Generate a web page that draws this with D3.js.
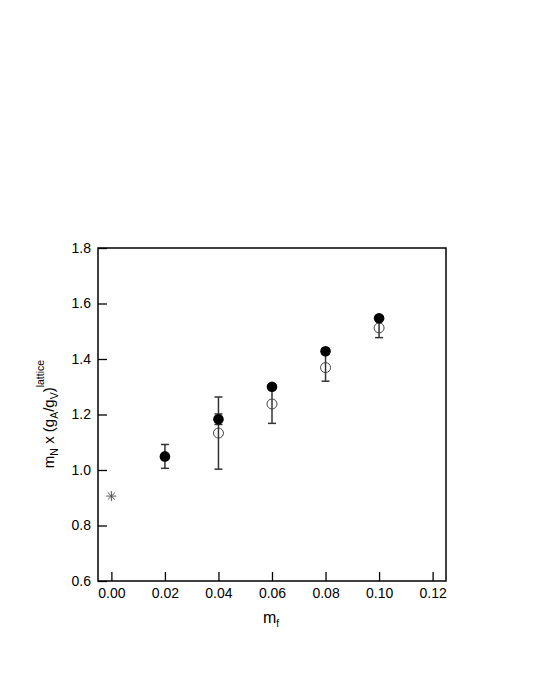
<!DOCTYPE html>
<html>
<head>
<meta charset="utf-8">
<script src="https://cdn.jsdelivr.net/npm/d3@7"></script>
<style>
  body { margin: 0; background: #fff; }
  svg text { font-family: "Liberation Sans", Arial, sans-serif; fill: #000; }
</style>
</head>
<body>
<svg class="d3" width="535" height="692"></svg>
<script>
// masses m_f
var mf = [0.02, 0.04, 0.06, 0.08, 0.10];
// filled circles
var filledY   = [1.049, 1.183, 1.300, 1.428, 1.547];
var filledErr = [0.043, 0.019, 0.010, 0.010, 0.008];
// open circles
var openMf  = [0.04, 0.06, 0.08, 0.10];
var openY   = [1.133, 1.238, 1.369, 1.512];
var openErr = [0.130, 0.070, 0.049, 0.035];
// chiral limit point (star)
var starX = [0.0];
var starY = [0.906];

var xTicks = [0, 0.02, 0.04, 0.06, 0.08, 0.10, 0.12];
var yTicks = [0.6, 0.8, 1.0, 1.2, 1.4, 1.6, 1.8];

var svg = d3.select("svg.d3");
var margin = {left: 98, top: 248, right: 446, bottom: 581};

var x = d3.scaleLinear().domain([-0.005, 0.125]).range([margin.left, margin.right]);
var y = d3.scaleLinear().domain([0.6, 1.8]).range([margin.bottom, margin.top]);

// frame
svg.append("rect")
    .attr("x", margin.left).attr("y", margin.top)
    .attr("width", margin.right - margin.left)
    .attr("height", margin.bottom - margin.top)
    .attr("fill", "none").attr("stroke", "#000").attr("stroke-width", 1.5);

// x axis, ticks pointing inward
var xAxis = svg.append("g")
    .attr("transform", "translate(0," + margin.bottom + ")")
    .call(d3.axisBottom(x).tickValues(xTicks).tickFormat(d3.format(".2f"))
      .tickSizeInner(-9).tickSizeOuter(0).tickPadding(7));
xAxis.select(".domain").remove();
xAxis.selectAll(".tick line").attr("stroke", "#000").attr("stroke-width", 1.3);
xAxis.selectAll("text").style("font-size", "14px");

// y axis, ticks pointing inward
var yAxis = svg.append("g")
    .attr("transform", "translate(" + margin.left + ",0)")
    .call(d3.axisLeft(y).tickValues(yTicks).tickFormat(d3.format(".1f"))
      .tickSizeInner(-9).tickSizeOuter(0).tickPadding(7));
yAxis.select(".domain").remove();
yAxis.selectAll(".tick line").attr("stroke", "#000").attr("stroke-width", 1.3);
yAxis.selectAll("text").style("font-size", "14px");

// axis titles
var xt = svg.append("text")
    .attr("x", 271).attr("y", 623)
    .attr("text-anchor", "middle")
    .style("font-size", "16px");
xt.append("tspan").text("m");
xt.append("tspan").attr("dy", 4).style("font-size", "10px").text("f");

var yt = svg.append("text")
    .attr("transform", "translate(54,414) rotate(-90)")
    .attr("text-anchor", "middle")
    .style("font-size", "15px");
yt.append("tspan").text("m");
yt.append("tspan").attr("dy", 4).style("font-size", "10.5px").text("N");
yt.append("tspan").attr("dy", -4).text(" x (g");
yt.append("tspan").attr("dy", 4).style("font-size", "10.5px").text("A");
yt.append("tspan").attr("dy", -4).text("/g");
yt.append("tspan").attr("dy", 4).style("font-size", "10.5px").text("V");
yt.append("tspan").attr("dy", -4).text(")");
yt.append("tspan").attr("dy", -10).style("font-size", "10.5px").text("lattice");

var errColor = "#333";
var cap = 4;

function errorBars(xs, ys, es) {
  var g = svg.append("g").attr("stroke", errColor).attr("stroke-width", 1.5);
  xs.forEach(function(d, i) {
    var cx = x(d), lo = y(ys[i] - es[i]), hi = y(ys[i] + es[i]);
    g.append("line").attr("x1", cx).attr("x2", cx).attr("y1", lo).attr("y2", hi);
    g.append("line").attr("x1", cx - cap).attr("x2", cx + cap).attr("y1", lo).attr("y2", lo);
    g.append("line").attr("x1", cx - cap).attr("x2", cx + cap).attr("y1", hi).attr("y2", hi);
  });
}

errorBars(openMf, openY, openErr);

svg.append("g").selectAll("circle")
    .data(openMf)
  .enter().append("circle")
    .attr("cx", function(d) { return x(d); })
    .attr("cy", function(d, i) { return y(openY[i]); })
    .attr("r", 5)
    .attr("fill", "none")
    .attr("stroke", "#444")
    .attr("stroke-width", 1);

errorBars(mf, filledY, filledErr);

svg.append("g").selectAll("circle")
    .data(mf)
  .enter().append("circle")
    .attr("cx", function(d) { return x(d); })
    .attr("cy", function(d, i) { return y(filledY[i]); })
    .attr("r", 5.3)
    .attr("fill", "#000");

// star marker
svg.append("g").selectAll("path")
    .data(starX)
  .enter().append("path")
    .attr("transform", function(d, i) { return "translate(" + x(d) + "," + y(starY[i]) + ")"; })
    .attr("d", "M-5,0L5,0M0,-5L0,5M-3.6,-3.6L3.6,3.6M-3.6,3.6L3.6,-3.6")
    .attr("stroke", "#555")
    .attr("stroke-width", 1);
</script>
</body>
</html>
